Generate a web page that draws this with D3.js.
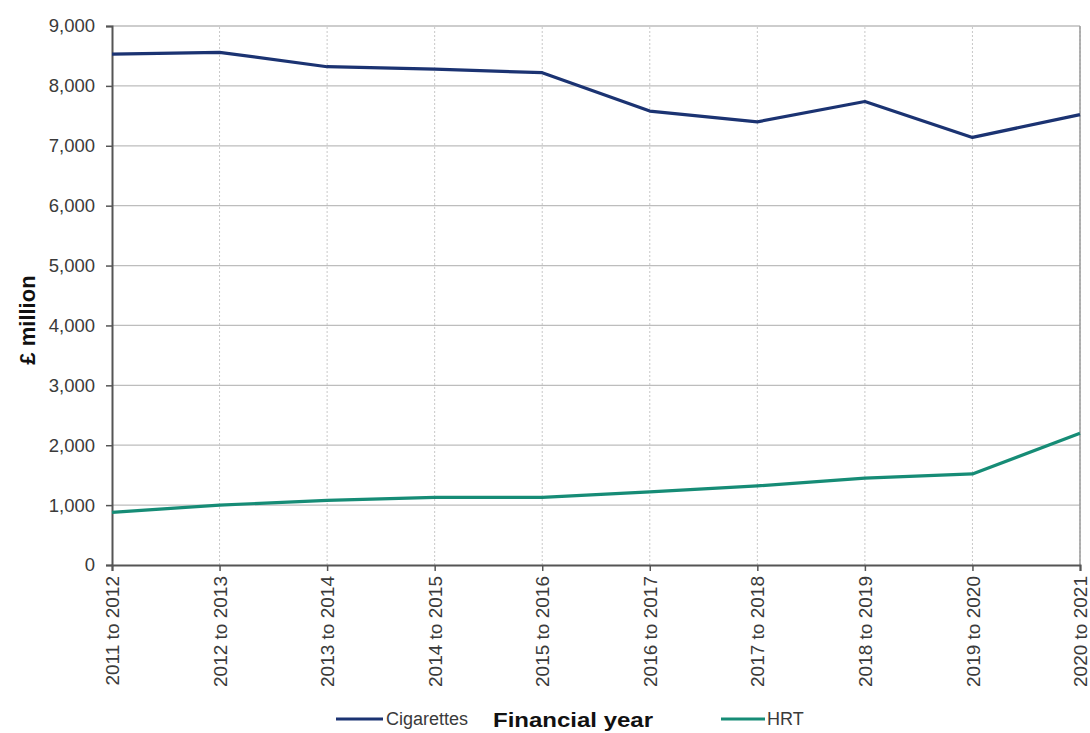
<!DOCTYPE html>
<html>
<head>
<meta charset="utf-8">
<script src="https://cdn.jsdelivr.net/npm/d3@7"></script>
<style>
  html, body { margin: 0; padding: 0; background: #fff; }
  svg { display: block; font-family: "Liberation Sans", Arial, sans-serif; }
</style>
</head>
<body>
<svg id="chart" width="1090" height="733"></svg>
<script>
// Financial years on the x axis
const years = ["2011 to 2012", "2012 to 2013", "2013 to 2014", "2014 to 2015", "2015 to 2016",
               "2016 to 2017", "2017 to 2018", "2018 to 2019", "2019 to 2020", "2020 to 2021"];
// Spend in £ million
const cigarettes = [8530, 8560, 8320, 8280, 8220, 7580, 7400, 7740, 7140, 7520];
const hrt = [880, 1000, 1080, 1130, 1130, 1220, 1320, 1450, 1520, 2200];
const yTicks = [0, 1000, 2000, 3000, 4000, 5000, 6000, 7000, 8000, 9000];

const svg = d3.select("#chart");
const margin = { left: 112, right: 10, top: 26, bottom: 168 };
const W = 1090, H = 733;
const x = d3.scalePoint().domain(years).range([margin.left, W - margin.right]);
const y = d3.scaleLinear().domain([0, 9000]).range([H - margin.bottom, margin.top]);

const fmt = d3.format(",");

// Horizontal gridlines
svg.append("g").selectAll("line").data(yTicks.filter(d => d > 0)).join("line")
  .attr("x1", margin.left).attr("x2", W - margin.right)
  .attr("y1", d => y(d)).attr("y2", d => y(d))
  .attr("stroke", "#bdbdbd").attr("stroke-width", 1.3);

// Vertical dotted gridlines
svg.append("g").selectAll("line").data(years.slice(1)).join("line")
  .attr("x1", d => x(d)).attr("x2", d => x(d))
  .attr("y1", y(0)).attr("y2", y(9000))
  .attr("stroke", "#c8c8c8").attr("stroke-width", 1).attr("stroke-dasharray", "2,2");

// Right border
svg.append("line")
  .attr("x1", W - margin.right).attr("x2", W - margin.right)
  .attr("y1", y(0)).attr("y2", y(9000))
  .attr("stroke", "#9a9a9a").attr("stroke-width", 1.5);

// Y axis
const yAxis = svg.append("g").attr("transform", `translate(${margin.left},0)`)
  .call(d3.axisLeft(y).tickValues(yTicks).tickFormat(fmt).tickSize(6).tickPadding(11));
yAxis.select(".domain").attr("stroke", "#555").attr("stroke-width", 2);
yAxis.selectAll(".tick line").attr("stroke", "#555").attr("stroke-width", 1.5);
yAxis.selectAll(".tick text").attr("fill", "#3a3a3a").style("font-size", "18.5px");

// X axis
const xAxis = svg.append("g").attr("transform", `translate(0,${y(0)})`)
  .call(d3.axisBottom(x).tickSize(6).tickPadding(0));
xAxis.select(".domain").attr("stroke", "#555").attr("stroke-width", 2);
xAxis.selectAll(".tick line").attr("stroke", "#555").attr("stroke-width", 1.5);
xAxis.selectAll(".tick text")
  .attr("fill", "#3a3a3a").style("font-size", "19px")
  .attr("text-anchor", "end")
  .attr("transform", "rotate(-90)")
  .attr("x", -11).attr("y", 0).attr("dy", "0.35em");

// Lines
const line = d3.line().x((d, i) => x(years[i])).y(d => y(d));
svg.append("path").datum(cigarettes).attr("d", line)
  .attr("fill", "none").attr("stroke", "#1b3372").attr("stroke-width", 3.2)
  .attr("stroke-linejoin", "round");
svg.append("path").datum(hrt).attr("d", line)
  .attr("fill", "none").attr("stroke", "#168c76").attr("stroke-width", 3.2)
  .attr("stroke-linejoin", "round");

// Y axis title
svg.append("text")
  .attr("transform", "translate(35,320) rotate(-90)")
  .attr("text-anchor", "middle")
  .style("font-size", "22px").style("font-weight", "bold").attr("fill", "#111")
  .text("£ million");

// Legend with x axis title between entries
const legY = 719;
svg.append("line").attr("x1", 336).attr("x2", 383).attr("y1", legY).attr("y2", legY)
  .attr("stroke", "#1b3372").attr("stroke-width", 3.2);
svg.append("text").attr("x", 386).attr("y", legY + 6)
  .style("font-size", "18px").attr("fill", "#3a3a3a").text("Cigarettes");
svg.append("text").attr("x", 493).attr("y", legY + 8)
  .style("font-size", "21px").style("font-weight", "bold").attr("fill", "#111")
  .attr("textLength", 160).attr("lengthAdjust", "spacingAndGlyphs")
  .text("Financial year");
svg.append("line").attr("x1", 721).attr("x2", 765).attr("y1", legY).attr("y2", legY)
  .attr("stroke", "#168c76").attr("stroke-width", 3.2);
svg.append("text").attr("x", 767).attr("y", legY + 6)
  .style("font-size", "18px").attr("fill", "#3a3a3a").text("HRT");
</script>
</body>
</html>
